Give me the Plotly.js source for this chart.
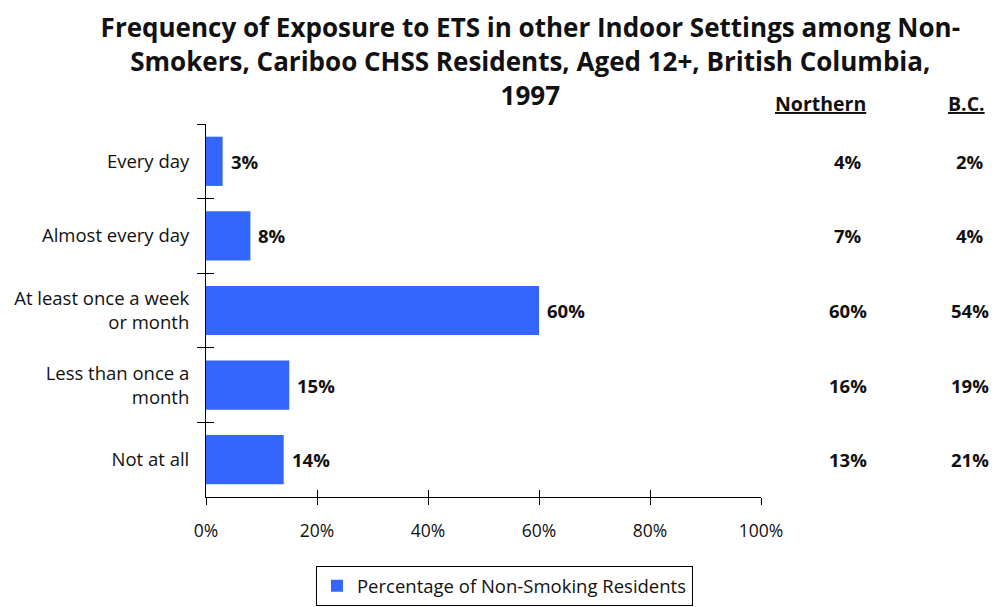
<!DOCTYPE html>
<html>
<head>
<meta charset="utf-8">
<script src="https://cdn.plot.ly/plotly-3.0.1.min.js"></script>
<style>html,body{margin:0;padding:0;background:#fff;}#chart{width:995px;height:607px;}</style>
</head>
<body>
<div id="chart"></div>
<script>
const categories = ["Every day", "Almost every day", "At least once a week<br>or month", "Less than once a<br>month", "Not at all"];
const cariboo = [3, 8, 60, 15, 14];
const northern = [4, 7, 60, 16, 13];
const bc = [2, 4, 54, 19, 21];
const xTicks = [0, 20, 40, 60, 80, 100];
const seriesName = "Percentage of Non-Smoking Residents";
const titleText = "<b>Frequency of Exposure to ETS in other Indoor Settings among Non-<br>Smokers, Cariboo CHSS Residents, Aged 12+, British Columbia,<br>1997</b>";

const FONT = "Open Sans, Lato, sans-serif";
const blue = "#3366ff";
const ink = "#111";

const traces = [
  {
    type: "bar", orientation: "h",
    x: cariboo, y: categories,
    name: seriesName,
    marker: {color: blue},
    width: 0.66,
    hoverinfo: "skip"
  },
  {
    type: "bar", orientation: "h",
    x: cariboo, y: categories,
    xaxis: "x2", yaxis: "y2",
    marker: {color: "rgba(0,0,0,0)"},
    showlegend: false, hoverinfo: "skip"
  }
];

const annotations = [];
const xN = 1.157, xB = 1.377;
categories.forEach((c, i) => {
  annotations.push({xref: "x", yref: "y", x: cariboo[i], y: c, text: "<b>" + cariboo[i] + "%</b>", showarrow: false, xanchor: "left", xshift: 6, font: {family: FONT, size: 18.5, color: ink}});
  annotations.push({xref: "paper", yref: "y", x: xN, y: c, text: "<b>" + northern[i] + "%</b>", showarrow: false, xanchor: "center", font: {family: FONT, size: 18.5, color: ink}});
  annotations.push({xref: "paper", yref: "y", x: xB, y: c, text: "<b>" + bc[i] + "%</b>", showarrow: false, xanchor: "center", font: {family: FONT, size: 18.5, color: ink}});
});
annotations.push({xref: "paper", yref: "paper", x: 1.108, y: 1.054, text: "<b><u>Northern</u></b>", showarrow: false, xanchor: "center", yanchor: "middle", font: {family: FONT, size: 19.5, color: ink}});
annotations.push({xref: "paper", yref: "paper", x: 1.371, y: 1.054, text: "<b><u>B.C.</u></b>", showarrow: false, xanchor: "center", yanchor: "middle", font: {family: FONT, size: 19.5, color: ink}});

const layout = {
  width: 995, height: 607,
  margin: {l: 206, r: 234, t: 124, b: 110},
  paper_bgcolor: "#fff", plot_bgcolor: "#fff",
  font: {family: FONT, size: 16, color: ink},
  title: {text: titleText, x: 0.533, xref: "container", xanchor: "center", y: 0.939, yref: "container", yanchor: "middle",
          font: {family: FONT, size: 26, color: ink}},
  showlegend: true,
  legend: {orientation: "h", x: 0.507, xanchor: "center", y: 0.067, yanchor: "top", xref: "container", yref: "container",
           bordercolor: "#000", borderwidth: 1, font: {family: FONT, size: 18.5, color: ink}, itemwidth: 30},
  xaxis: {range: [0, 100], tickvals: xTicks, ticktext: xTicks.map(v => v + "%"), ticks: "outside", ticklen: 7, tickcolor: "#000",
          showline: true, linecolor: "#000", linewidth: 1, showgrid: false, zeroline: false, fixedrange: true, automargin: false,
          ticklabelstandoff: 11, tickfont: {family: FONT, size: 17.5, color: ink}},
  yaxis: {type: "category", categoryarray: categories, autorange: "reversed", tickson: "boundaries", ticks: "outside", ticklen: 8,
          tickcolor: "#000", showline: true, linecolor: "#000", linewidth: 1, showgrid: false, zeroline: false, fixedrange: true, automargin: false,
          ticklabelstandoff: 12, tickfont: {family: FONT, size: 18.5, color: ink}},
  xaxis2: {overlaying: "x", anchor: "y", side: "bottom", range: [0, 100], tickvals: xTicks, ticks: "inside", ticklen: 7, tickcolor: "#000",
           showticklabels: false, showline: false, showgrid: false, zeroline: false, fixedrange: true},
  yaxis2: {overlaying: "y", anchor: "x", side: "left", type: "category", categoryarray: categories, autorange: "reversed", tickson: "boundaries",
           ticks: "inside", ticklen: 8, tickcolor: "#000", showticklabels: false, showline: false, showgrid: false, zeroline: false, fixedrange: true},
  annotations: annotations
};

Plotly.newPlot("chart", traces, layout, {displayModeBar: false, staticPlot: true});
</script>
</body>
</html>
